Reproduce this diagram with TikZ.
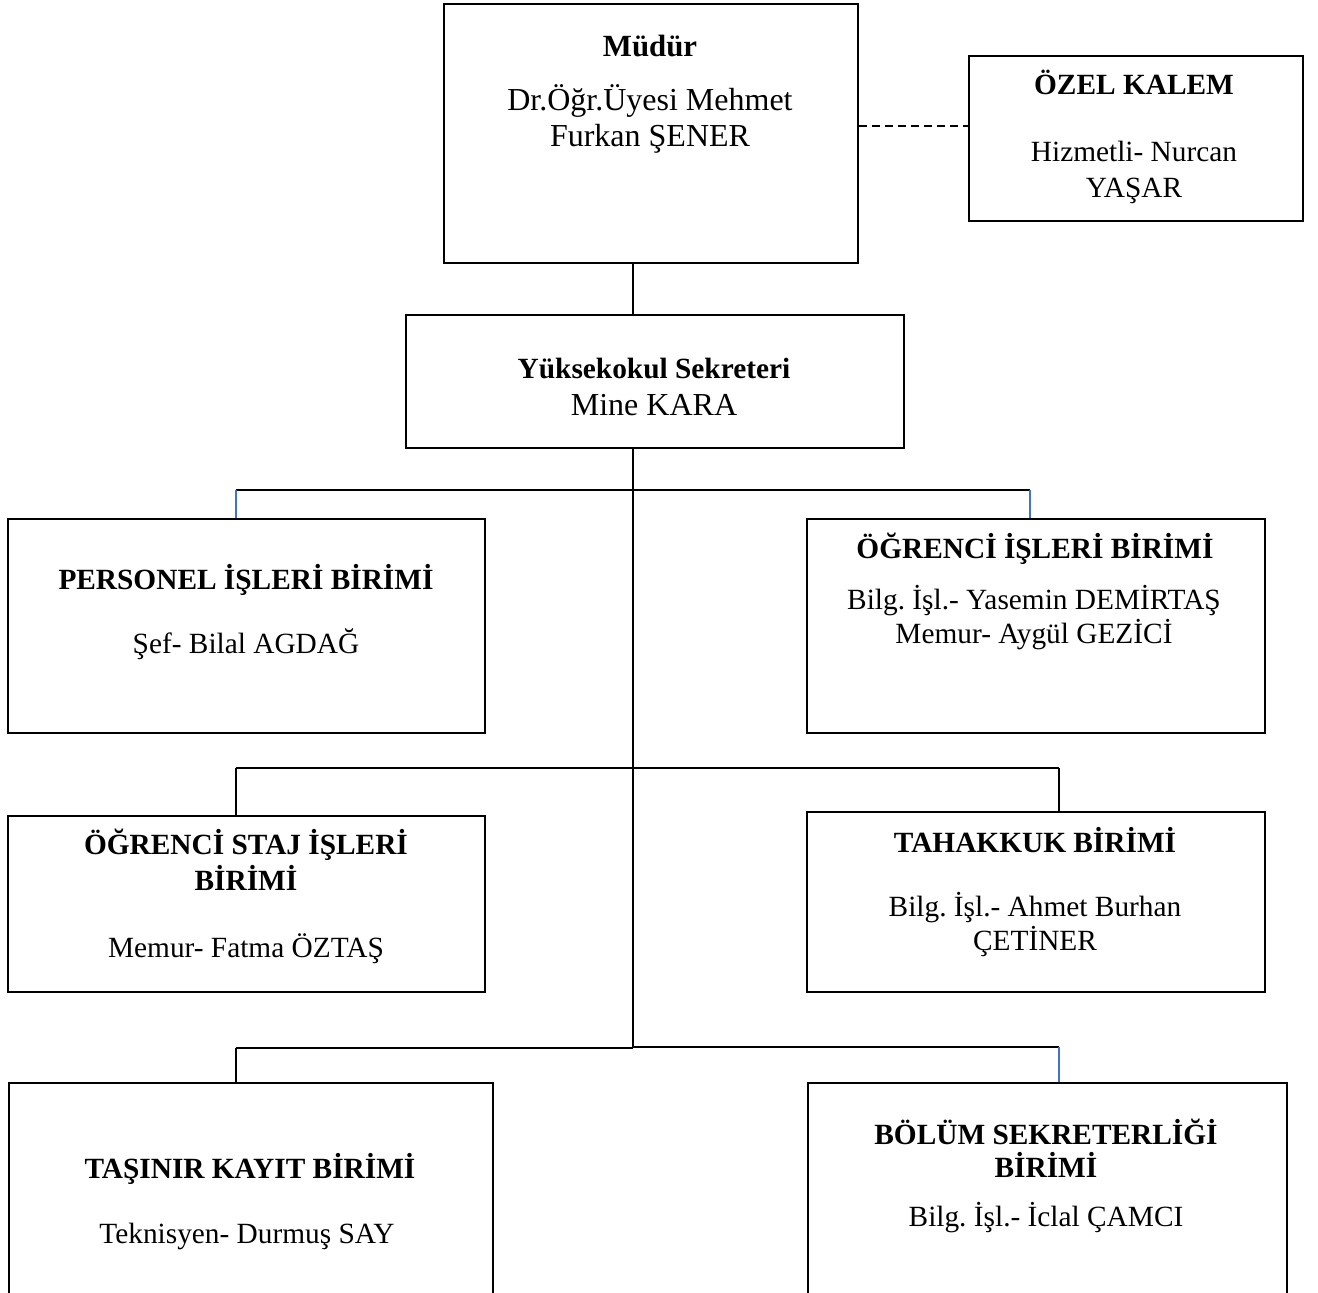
\documentclass[tikz,border=0pt]{standalone}
\usepackage{fontspec}
\setmainfont{Liberation Serif}
\definecolor{stubblue}{HTML}{4472C4}
\begin{document}
\frenchspacing
\begin{tikzpicture}[x=0.5pt,y=-0.5pt,
    box/.style={draw, line width=1pt, inner sep=0pt, anchor=north west},
    txt/.style={anchor=base, inner sep=0pt, font=\fontsize{14.67}{17}\selectfont},
    bigtxt/.style={txt, font=\fontsize{16}{18.5}\selectfont},
    ttl/.style={txt, font=\fontsize{14.67}{17}\selectfont\bfseries},
    link/.style={line width=1pt},
    bluelink/.style={line width=1pt, color=stubblue}]
    \useasboundingbox (0,0) rectangle (1318,1292);
    \clip (0,0) rectangle (1318,1292);
    % boxes
    \node[box, minimum width=207pt, minimum height=129.5pt] (mudur) at (443,3) {};
    \node[box, minimum width=167pt, minimum height=82.5pt] (ozel) at (968,55) {};
    \node[box, minimum width=249pt, minimum height=66.5pt] (sekreter) at (405,314) {};
    \node[box, minimum width=238.5pt, minimum height=107pt] (personel) at (7,518) {};
    \node[box, minimum width=229pt, minimum height=107pt] (ogrenci) at (806,518) {};
    \node[box, minimum width=238.5pt, minimum height=88pt] (staj) at (7,815) {};
    \node[box, minimum width=229pt, minimum height=90pt] (tahakkuk) at (806,811) {};
    \node[box, minimum width=242pt, minimum height=120pt] (tasinir) at (8,1082) {};
    \node[box, minimum width=239.5pt, minimum height=120pt] (bolum) at (807,1082) {};
    % texts
    \node[ttl, font=\fontsize{15.4}{18}\selectfont\bfseries] (mudurT) at (650,56) {Müdür};
    \node[bigtxt] (mudurA) at (650,110) {Dr.Öğr.Üyesi Mehmet};
    \node[bigtxt] (mudurB) at (650,146) {Furkan ŞENER};
    \node[ttl] (ozelT) at (1134,94) {ÖZEL KALEM};
    \node[txt] (ozelA) at (1134,161) {Hizmetli- Nurcan};
    \node[txt] (ozelB) at (1134,197) {YAŞAR};
    \node[ttl] (sekreterT) at (654,378) {Yüksekokul Sekreteri};
    \node[bigtxt] (sekreterA) at (654,415) {Mine KARA};
    \node[ttl] (personelT) at (246,589) {PERSONEL İŞLERİ BİRİMİ};
    \node[txt] (personelA) at (246,653) {Şef- Bilal AGDAĞ};
    \node[ttl] (ogrenciT) at (1035,558) {ÖĞRENCİ İŞLERİ BİRİMİ};
    \node[txt] (ogrenciA) at (1034,609) {Bilg. İşl.- Yasemin DEMİRTAŞ};
    \node[txt] (ogrenciB) at (1034,643) {Memur- Aygül GEZİCİ};
    \node[ttl] (stajT) at (246,854) {ÖĞRENCİ STAJ İŞLERİ};
    \node[ttl] (stajU) at (246,890) {BİRİMİ};
    \node[txt] (stajA) at (246,957) {Memur- Fatma ÖZTAŞ};
    \node[ttl] (tahakkukT) at (1035,852) {TAHAKKUK BİRİMİ};
    \node[txt] (tahakkukA) at (1035,916) {Bilg. İşl.- Ahmet Burhan};
    \node[txt] (tahakkukB) at (1035,950) {ÇETİNER};
    \node[ttl] (tasinirT) at (250,1178) {TAŞINIR KAYIT BİRİMİ};
    \node[txt] (tasinirA) at (247,1243) {Teknisyen- Durmuş SAY};
    \node[ttl] (bolumT) at (1046,1144) {BÖLÜM SEKRETERLİĞİ};
    \node[ttl] (bolumU) at (1046,1177) {BİRİMİ};
    \node[txt] (bolumA) at (1046,1226) {Bilg. İşl.- İclal ÇAMCI};
    % connectors
    \coordinate (trunk) at (633,0);
    \coordinate (dash) at (0,126);
    \coordinate (r1l) at (236,490);
    \coordinate (r1r) at (1030,490);
    \coordinate (r2l) at (236,768);
    \coordinate (r2r) at (1059,768);
    \coordinate (r3l) at (236,1048);
    \coordinate (r3r) at (1059,1047);
    \draw[line width=1pt, dash pattern=on 4pt off 2.5pt] (mudur.east |- dash) -- (ozel.west |- dash);
    \draw[link] (mudur.south -| trunk) -- (sekreter.north -| trunk);
    \draw[link] (sekreter.south -| trunk) -- (r3l -| trunk);
    \draw[link] (r1l) -- (r1r);
    \draw[bluelink] (r1l) -- (r1l |- personel.north);
    \draw[bluelink] (r1r) -- (r1r |- ogrenci.north);
    \draw[link] (r2l) -- (r2r);
    \draw[link] (r2l) -- (r2l |- staj.north);
    \draw[link] (r2r) -- (r2r |- tahakkuk.north);
    \draw[link] (r3l) -- (r3l -| trunk) (r3r -| trunk) -- (r3r);
    \draw[link] (r3l) -- (r3l |- tasinir.north);
    \draw[bluelink] (r3r) -- (r3r |- bolum.north);
\end{tikzpicture}
\end{document}
